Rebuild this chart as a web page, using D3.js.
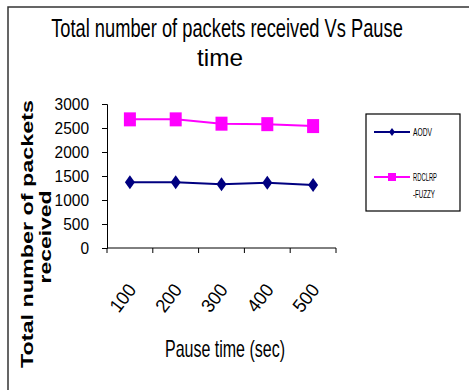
<!DOCTYPE html>
<meta charset="utf-8">
<style>
body { margin: 0; background: #fff; }
svg { font-family: 'Liberation Sans Narrow', 'Liberation Sans', Arial, sans-serif; }
.axis path, .axis line { stroke: #000; }
.axis text { font-size: 14px; fill: #000; }
</style>
<body>
<div id="chart"></div>
<script src="https://cdnjs.cloudflare.com/ajax/libs/d3/7.8.5/d3.min.js"></script>
<script>
var pauseTimes = ['100', '200', '300', '400', '500'];
var aodv = [1370, 1370, 1330, 1360, 1310];
var rdclrp = [2680, 2680, 2590, 2580, 2540];
var yTicks = [0, 500, 1000, 1500, 2000, 2500, 3000];
var seriesNames = ['AODV', 'RDCLRP -FUZZY'];

var svg = d3.select('#chart').append('svg')
  .attr('width', 469).attr('height', 390);

// outer frame
svg.append('rect')
  .attr('x', 8).attr('y', 7).attr('width', 480).attr('height', 400)
  .attr('fill', 'none').attr('stroke', '#333').attr('stroke-width', 1.5);

var x = d3.scaleBand().domain(pauseTimes).range([107, 336]);
var y = d3.scaleLinear().domain([0, 3000]).range([248, 104]);

svg.append('g').attr('class', 'axis')
  .attr('transform', 'translate(107,0)')
  .call(d3.axisLeft(y).tickValues(yTicks).tickSize(5).tickPadding(13).tickFormat(d3.format('d')))
  .selectAll('text')
  .attr('textLength', function(d) { return String(d).length * 8.6; })
  .attr('lengthAdjust', 'spacingAndGlyphs')
  .style('font-size', '16px');

var gx = svg.append('g').attr('class', 'axis')
  .attr('transform', 'translate(0,248)')
  .call(d3.axisBottom(x).tickSize(0).tickPadding(0).tickFormat(''));
gx.select('.domain').remove();
gx.append('line').attr('x1', 107).attr('x2', 336).attr('stroke', '#000');
gx.selectAll('.bt').data(pauseTimes.concat(['end'])).enter().append('line')
  .attr('x1', function(d, i) { return 107 + i * x.bandwidth(); })
  .attr('x2', function(d, i) { return 107 + i * x.bandwidth(); })
  .attr('y1', 0).attr('y2', 5).attr('stroke', '#000');

gx.selectAll('.lab').data(pauseTimes).enter().append('text')
  .attr('transform', function(d) {
    return 'translate(' + (x(d) + x.bandwidth() / 2 - 2) + ',54) rotate(-52)';
  })
  .attr('text-anchor', 'middle')
  .attr('textLength', 30).attr('lengthAdjust', 'spacingAndGlyphs')
  .style('font-size', '19px')
  .text(function(d) { return d; });

function cx(d) { return x(d) + x.bandwidth() / 2; }

var line = d3.line()
  .x(function(d, i) { return cx(pauseTimes[i]); })
  .y(function(d) { return y(d); });

svg.append('path').datum(aodv).attr('d', line)
  .attr('fill', 'none').attr('stroke', '#000080').attr('stroke-width', 2);
svg.append('path').datum(rdclrp).attr('d', line)
  .attr('fill', 'none').attr('stroke', '#ff00ff').attr('stroke-width', 2);

svg.selectAll('.dia').data(aodv).enter().append('path')
  .attr('d', 'M0,-7L5,0L0,7L-5,0Z')
  .attr('transform', function(d, i) { return 'translate(' + cx(pauseTimes[i]) + ',' + y(d) + ')'; })
  .attr('fill', '#000080');
svg.selectAll('.sq').data(rdclrp).enter().append('rect')
  .attr('x', function(d, i) { return cx(pauseTimes[i]) - 6; })
  .attr('y', function(d) { return y(d) - 7; })
  .attr('width', 12).attr('height', 14)
  .attr('fill', '#ff00ff');

// titles (condensed look via horizontal scale)
var t1 = svg.append('text').attr('text-anchor', 'middle')
  .style('font-size', '25px').text('Total number of packets received Vs Pause');
var w1 = t1.node().getComputedTextLength();
t1.attr('transform', 'translate(227,37) scale(' + (352 / w1) + ',1)');
var t2 = svg.append('text').attr('text-anchor', 'middle')
  .style('font-size', '24px').text('time');
var w2 = t2.node().getComputedTextLength();
t2.attr('transform', 'translate(220,66) scale(' + (46 / w2) + ',1)');

svg.append('text').attr('x', 225).attr('y', 357).attr('text-anchor', 'middle')
  .attr('textLength', 120).attr('lengthAdjust', 'spacingAndGlyphs')
  .style('font-size', '24px').text('Pause time (sec)');

svg.append('text').attr('transform', 'translate(33,234) rotate(-90)')
  .attr('text-anchor', 'middle')
  .attr('textLength', 268).attr('lengthAdjust', 'spacingAndGlyphs')
  .style('font-family', 'Liberation Sans, Arial, sans-serif')
  .style('font-weight', 'bold').style('font-size', '17px')
  .text('Total number of packets');
svg.append('text').attr('transform', 'translate(51,237) rotate(-90)')
  .attr('text-anchor', 'middle')
  .attr('textLength', 93).attr('lengthAdjust', 'spacingAndGlyphs')
  .style('font-family', 'Liberation Sans, Arial, sans-serif')
  .style('font-weight', 'bold').style('font-size', '17px')
  .text('received');

// legend
var lg = svg.append('g');
lg.append('rect').attr('x', 366).attr('y', 114).attr('width', 94).attr('height', 97)
  .attr('fill', '#fff').attr('stroke', '#000').attr('stroke-width', 1.2);
lg.append('line').attr('x1', 374).attr('x2', 410).attr('y1', 132).attr('y2', 132)
  .attr('stroke', '#000080').attr('stroke-width', 2);
lg.append('path').attr('d', 'M0,-4L3,0L0,4L-3,0Z').attr('transform', 'translate(392,132)')
  .attr('fill', '#000080');
lg.append('line').attr('x1', 374).attr('x2', 410).attr('y1', 177).attr('y2', 177)
  .attr('stroke', '#ff00ff').attr('stroke-width', 2);
lg.append('rect').attr('x', 388).attr('y', 173).attr('width', 8).attr('height', 8)
  .attr('fill', '#ff00ff');
lg.append('text').attr('x', 413).attr('y', 136).style('font-size', '11px')
  .attr('textLength', 19).attr('lengthAdjust', 'spacingAndGlyphs').text(seriesNames[0]);
lg.append('text').attr('x', 413).attr('y', 181).style('font-size', '11px')
  .attr('textLength', 24).attr('lengthAdjust', 'spacingAndGlyphs').text('RDCLRP');
lg.append('text').attr('x', 413).attr('y', 198).style('font-size', '11px')
  .attr('textLength', 22).attr('lengthAdjust', 'spacingAndGlyphs').text('-FUZZY');
</script>
</body>
